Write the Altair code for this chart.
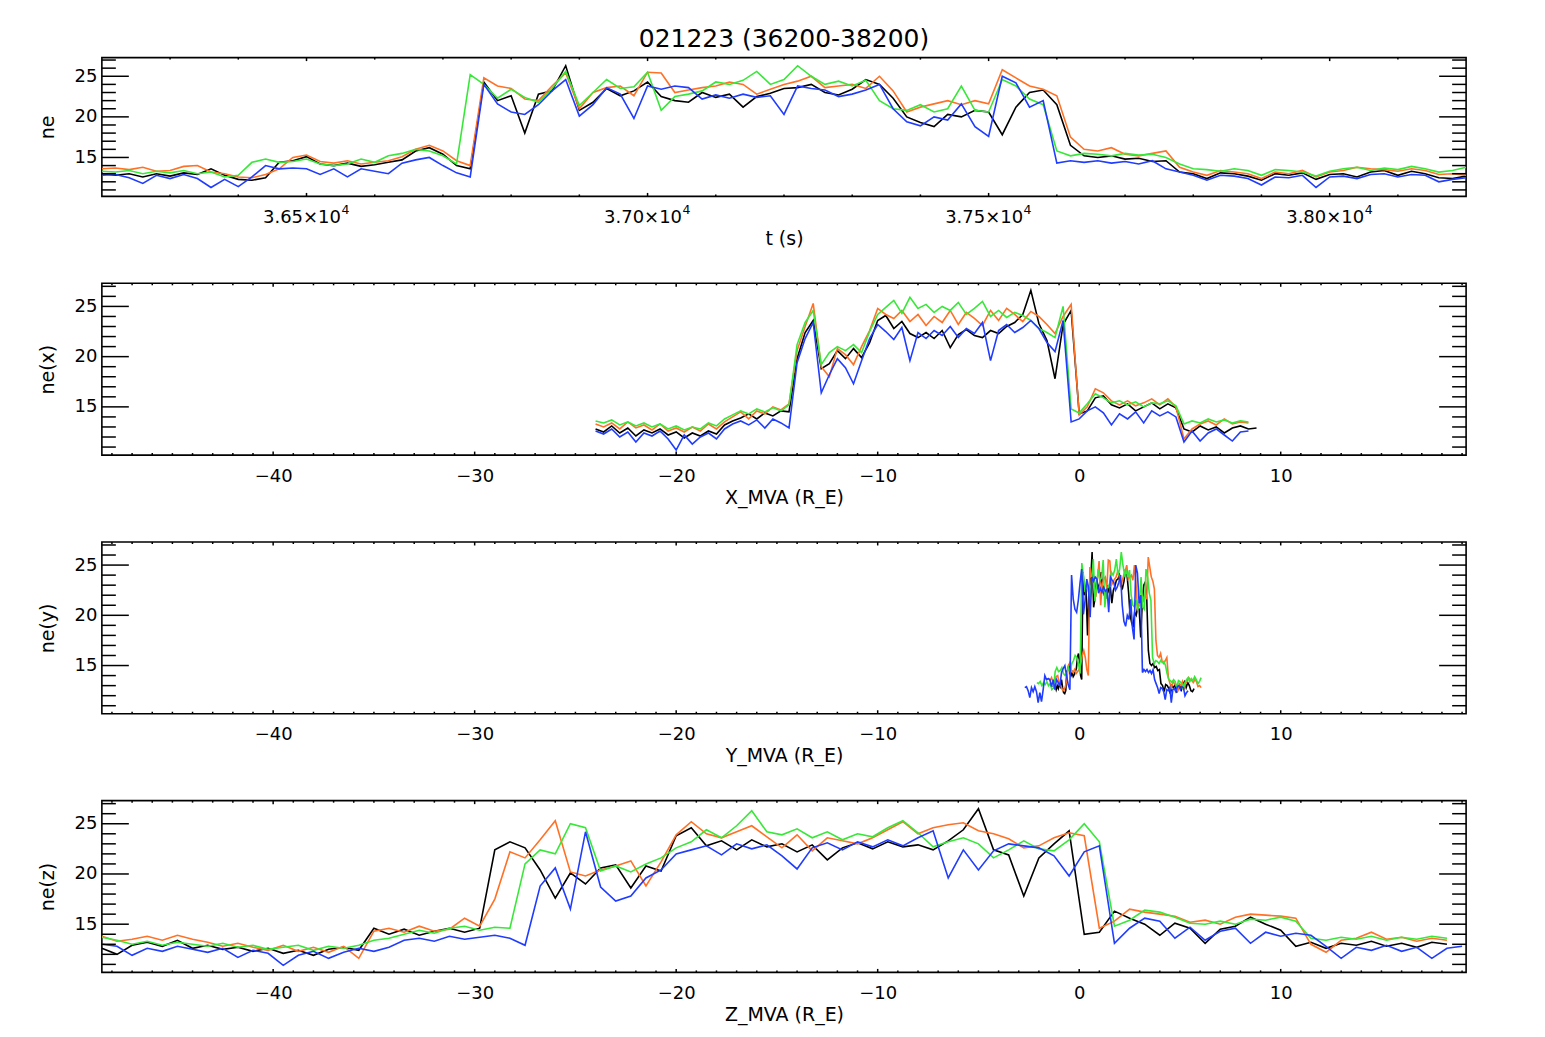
import altair as alt
import numpy as np
import pandas as pd

SPACECRAFT = ["C1", "C2", "C3", "C4"]
LINE_COLORS = ["#000000", "#ff7125", "#38e838", "#1f3cff"]

# ---- ne against time, sampled every 20 s from 36200 s --------------------
T_START, T_END, T_STEP = 36200, 38200, 20

ne_t_c1 = [13.0, 12.8, 13.0, 12.6, 13.0, 12.7, 13.1, 12.9, 13.6, 12.8,
           12.3, 12.2, 12.5, 14.4, 14.6, 15.1, 14.2, 14.0, 14.3, 13.9,
           14.1, 14.4, 14.7, 15.8, 16.2, 15.4, 14.0, 13.6, 24.3, 22.0,
           22.6, 18.0, 22.8, 23.2, 26.3, 20.8, 21.8, 23.5, 22.6, 23.2,
           24.3, 22.5, 22.0, 21.8, 23.0, 22.4, 22.8, 21.2, 22.5, 22.9,
           23.5, 23.6, 24.0, 23.0, 22.7, 23.4, 24.6, 24.0, 22.3, 20.0,
           19.3, 18.8, 20.3, 20.0, 20.8, 20.6, 17.8, 21.2, 23.0, 23.3,
           21.5, 16.5, 15.2, 15.0, 15.2, 14.8, 14.9, 14.5, 14.6, 13.2,
           13.0, 12.4, 13.1, 13.0, 12.7, 12.2, 13.0, 12.8, 13.1, 12.3,
           12.9, 13.0, 12.6, 13.2, 13.4, 12.8, 13.3, 13.0, 12.5, 12.4, 12.7]
ne_t_c2 = [13.6, 13.7, 13.5, 13.8, 13.3, 13.4, 13.9, 14.0, 13.2, 13.0,
           12.6, 12.5, 12.9, 13.6, 15.0, 15.3, 14.5, 14.3, 14.6, 14.2,
           14.4, 14.6, 15.1, 16.0, 16.5, 15.8, 14.6, 14.0, 24.8, 23.8,
           23.5, 22.2, 22.0, 23.8, 25.4, 21.0, 23.0, 23.6, 23.8, 22.6,
           25.5, 25.4, 23.0, 23.3, 23.6, 23.8, 24.3, 24.0, 22.8, 23.4,
           24.0, 24.4, 25.0, 23.6, 23.8, 24.0, 23.5, 25.0, 23.2, 20.6,
           21.2, 21.6, 22.0, 21.5, 22.0, 21.6, 25.8, 24.8, 23.8, 23.4,
           22.6, 17.5, 16.0, 15.8, 16.2, 15.4, 15.2, 15.5, 15.8, 13.8,
           13.2, 12.8, 13.4, 13.2, 13.0, 12.4, 13.2, 13.0, 13.4, 12.6,
           13.2, 13.4, 13.8, 13.6, 13.5, 13.3, 13.6, 13.4, 12.9, 13.0, 12.8]
ne_t_c3 = [13.3, 13.2, 13.4, 13.0, 13.3, 13.1, 13.4, 13.0, 13.2, 12.6,
           12.8, 14.4, 14.8, 14.4, 14.5, 14.8, 14.2, 14.0, 14.2, 14.8,
           14.4, 15.2, 15.5, 16.0, 15.8, 15.2, 14.2, 25.2, 24.0, 22.3,
           23.4, 22.4, 21.8, 23.5, 25.6, 21.4, 23.0, 24.6, 23.5, 23.7,
           25.5, 20.8, 22.5, 22.8, 23.2, 24.3, 24.0, 24.5, 25.6, 24.0,
           24.6, 26.3, 25.0, 24.0, 24.4, 23.8, 24.5, 22.0, 21.0, 20.8,
           21.5, 20.6, 21.0, 23.8, 20.8, 20.6, 24.6, 23.8, 22.2, 21.5,
           15.8, 15.2, 15.5, 15.4, 15.2, 15.5, 15.3, 15.4, 15.0, 14.2,
           13.6, 13.5, 13.3, 13.6, 13.4, 12.8, 13.5, 13.4, 13.2, 12.7,
           13.3, 13.6, 13.8, 13.4, 13.7, 13.5, 13.9, 13.6, 13.2, 13.4, 13.8]
ne_t_c4 = [12.8, 12.9, 12.5, 11.8, 12.8, 12.4, 12.9, 12.4, 11.3, 12.3,
           11.4, 12.6, 14.0, 13.6, 13.7, 13.6, 12.9, 13.6, 12.6, 13.6,
           13.3, 13.0, 14.3, 14.7, 15.0, 14.0, 13.1, 12.6, 24.0, 21.6,
           20.6, 20.3, 21.5, 23.2, 24.6, 20.1, 21.5, 23.6, 22.8, 19.8,
           23.8, 23.4, 23.8, 23.6, 22.2, 22.7, 22.3, 22.8, 22.4, 22.6,
           20.3, 23.8, 23.5, 23.3, 22.5, 22.8, 23.3, 24.0, 21.0, 19.4,
           18.9, 20.0, 19.6, 21.6, 18.8, 17.6, 25.0, 24.2, 21.2, 22.0,
           14.3, 14.6, 14.4, 14.6, 14.3, 14.5, 14.2, 14.6, 13.6, 13.2,
           12.8, 12.2, 12.8, 12.7, 12.4, 11.6, 12.6, 12.5, 12.8, 11.3,
           12.6, 12.7, 12.4, 12.9, 13.0, 12.6, 12.9, 12.8, 12.0, 12.3, 12.5]

# Y_MVA position (R_E) of each spacecraft at start, entry, exit and end
Y_TIMES = {
    "C1": [36200, 36750, 37612, 38200],
    "C2": [36200, 36752, 37618, 38200],
    "C3": [36200, 36733, 37590, 38200],
    "C4": [36200, 36755, 37590, 38200],
}
Y_MVA = {
    "C1": [-1.3, 0.15, 3.4, 5.7],
    "C2": [-1.6, 0.5, 3.8, 6.05],
    "C3": [-2.1, 0.1, 3.6, 6.05],
    "C4": [-2.7, -0.4, 3.1, 5.4],
}

# ---- ne binned along X_MVA: every 0.4 R_E from -24 R_E -------------------
X_START, X_STEP = -24.0, 0.4

ne_x_c1 = [12.8, 12.5, 13.1, 12.4, 12.9, 12.1, 12.7, 12.4, 12.8, 12.2,
           12.5, 11.9, 12.4, 12.1, 12.6, 12.3, 13.2, 13.6, 13.9, 14.3,
           13.8, 14.4, 14.1, 14.6, 14.5, 19.8, 22.4, 23.6, 18.8, 19.3,
           20.6, 19.8, 20.8, 19.9, 21.4, 23.6, 24.1, 22.8, 23.5, 22.3,
           21.9, 22.4, 21.8, 22.6, 20.9, 22.2, 22.7, 22.1, 21.9, 22.6,
           22.3, 23.0, 23.4, 24.2, 26.6, 23.3, 21.6, 17.8, 23.2, 24.6,
           14.3, 14.6, 15.9, 16.1, 15.2, 14.9, 15.3, 14.6, 15.0, 15.4,
           14.8, 15.3, 14.9, 12.8, 12.5, 13.1, 12.7, 13.0, 12.4, 12.9,
           13.1, 12.8, 12.9]
ne_x_c2 = [13.3, 13.0, 13.4, 12.8, 13.5, 12.9, 13.2, 12.7, 13.3, 12.6,
           12.9, 12.5, 13.0, 12.6, 13.3, 12.8, 13.5, 14.0, 14.5, 13.8,
           14.6, 14.3, 15.0, 14.7, 15.3, 20.6, 23.0, 25.3, 19.0, 18.0,
           20.8, 20.2, 19.2, 21.0, 22.6, 24.8, 24.2, 23.8, 24.6, 23.5,
           24.2, 23.1, 24.0, 23.4, 24.6, 23.2, 24.4, 23.8, 23.1, 24.6,
           23.6, 24.8, 24.2, 23.5, 24.5, 24.0, 23.2, 22.3, 24.0, 25.2,
           14.2, 15.0, 16.8, 16.4, 15.6, 15.2, 15.6, 15.1, 15.4, 15.8,
           15.2, 15.8, 15.0, 11.8, 12.8, 13.3, 13.6, 13.2, 13.8, 13.3,
           13.5, 13.4]
ne_x_c3 = [13.6, 13.4, 13.7, 13.2, 13.5, 13.1, 13.4, 13.0, 13.3, 12.8,
           13.1, 12.7, 13.0, 12.8, 13.4, 13.1, 13.8, 14.2, 14.6, 14.3,
           14.8, 14.5, 14.9, 14.6, 15.2, 21.2, 23.4, 24.6, 19.2, 20.4,
           21.0, 20.6, 21.2, 20.4, 22.5, 24.2, 24.9, 25.6, 24.3, 25.9,
           24.8, 25.2, 24.4, 25.0, 24.6, 25.4, 24.2, 24.8, 25.5, 24.0,
           24.6, 23.9, 24.4, 24.1, 23.6, 22.8, 22.4, 21.9, 25.0, 14.8,
           14.4, 15.3, 16.3, 15.9, 15.4, 15.6, 15.2, 15.5, 15.0, 15.4,
           15.3, 15.6, 15.1, 13.3, 13.6, 13.4, 13.8, 13.5, 13.7, 13.4,
           13.6, 13.5]
ne_x_c4 = [12.6, 12.3, 12.8, 12.0, 12.5, 11.5, 12.4, 12.1, 12.6, 11.8,
           10.7, 12.2, 11.3, 12.0, 12.4, 11.8, 12.8, 13.3, 13.6, 13.2,
           13.7, 12.9, 13.8, 13.4, 12.9, 19.4, 21.8, 23.4, 16.4, 18.2,
           19.8, 18.9, 17.3, 19.6, 21.8, 23.2, 22.5, 21.7, 22.9, 19.6,
           22.4, 21.8, 22.6, 22.1, 23.0, 21.9, 22.8, 22.3, 23.4, 19.6,
           22.6, 23.2, 22.4, 22.9, 23.6, 22.8, 21.4, 20.5, 23.6, 13.5,
           13.8, 14.6, 15.0, 14.4, 13.2, 14.3, 13.8, 14.5, 13.4, 14.6,
           14.1, 14.5, 14.0, 11.5, 12.6, 11.6, 12.4, 12.8, 12.2, 11.6,
           12.5, 12.6]

# ---- ne binned along Z_MVA: every 0.75 R_E from -48.5 R_E ----------------
Z_START, Z_STEP = -48.5, 0.75

ne_z_c1 = [12.6, 12.0, 12.9, 13.2, 12.8, 13.4, 12.6, 12.9, 12.5, 12.7,
           12.3, 12.6, 12.1, 12.4, 11.9, 12.5, 12.7, 12.4, 14.6, 14.0,
           14.5, 13.9, 14.3, 14.6, 14.2, 14.6, 22.4, 23.2, 22.6, 20.4,
           17.6, 20.1, 19.0, 20.6, 20.9, 18.6, 20.8, 20.3, 23.8, 24.6,
           22.8, 23.3, 22.4, 23.4, 22.7, 23.0, 22.2, 22.9, 21.4, 22.6,
           23.1, 22.5, 23.2, 22.7, 22.9, 22.4, 23.3, 24.4, 26.5, 22.4,
           21.9, 17.8, 21.6, 23.0, 24.3, 14.0, 14.2, 16.3, 15.6, 15.0,
           13.9, 15.1, 14.6, 13.1, 14.5, 14.8, 15.7, 15.0, 14.4, 12.8,
           13.2, 12.6, 13.1, 12.9, 13.3, 12.8, 13.1, 12.7, 13.2, 13.0]
ne_z_c2 = [13.8, 13.3, 13.5, 13.8, 13.4, 13.9, 13.5, 13.2, 12.8, 13.1,
           12.7, 12.4, 12.9, 12.3, 12.7, 12.2, 12.8, 11.6, 14.3, 14.6,
           14.2, 14.8, 14.3, 14.5, 15.6, 14.8, 17.5, 22.2, 21.6, 23.4,
           25.3, 20.2, 19.8, 20.4, 20.8, 21.3, 18.8, 21.2, 23.9, 25.2,
           24.0, 23.6, 24.2, 24.8, 23.7, 22.6, 23.9, 22.3, 23.6, 23.3,
           23.0, 23.6, 24.4, 25.2, 24.0, 24.6, 24.9, 25.1, 24.3, 24.0,
           23.5, 22.6, 22.8, 23.6, 24.1, 23.8, 14.6, 15.3, 16.5, 16.2,
           16.0, 15.8, 15.2, 15.4, 15.0, 15.7, 16.0, 15.9, 15.8, 15.6,
           13.0, 12.2, 13.4, 13.6, 14.2, 13.5, 13.7, 13.3, 13.6, 13.4]
ne_z_c3 = [13.7, 13.4, 13.0, 13.3, 12.9, 13.2, 13.0, 12.8, 13.1, 12.7,
           12.9, 12.5, 12.7, 12.9, 12.4, 12.8, 12.6, 12.9, 13.4, 13.6,
           14.0, 14.4, 14.1, 14.6, 14.8, 14.4, 14.7, 14.6, 21.0, 22.4,
           22.0, 25.0, 24.6, 20.3, 20.8, 20.2, 21.0, 21.6, 22.6, 23.2,
           24.4, 23.6, 24.8, 26.3, 24.2, 23.9, 24.5, 23.6, 24.2, 23.4,
           24.0, 23.7, 24.6, 25.3, 24.1, 22.7, 23.2, 23.6, 23.0, 21.6,
           22.4, 23.3, 22.5, 22.3, 23.4, 25.0, 23.2, 14.8, 15.4, 16.4,
           16.2, 15.7, 15.1, 15.0, 15.3, 15.0, 15.5, 15.4, 15.7, 15.3,
           13.6, 13.4, 13.7, 13.5, 13.8, 13.4, 13.7, 13.5, 13.8, 13.6]
ne_z_c4 = [13.0, 12.8, 11.9, 12.6, 12.3, 12.8, 12.5, 12.2, 12.6, 11.7,
           12.4, 12.1, 10.9, 11.9, 12.3, 11.6, 12.2, 12.6, 12.3, 12.7,
           13.4, 13.6, 13.3, 13.8, 13.5, 13.7, 13.9, 13.6, 12.9, 18.8,
           20.6, 16.5, 24.2, 18.7, 17.3, 17.8, 19.6, 20.4, 22.0, 22.4,
           22.8, 21.9, 23.0, 22.5, 22.9, 21.8, 20.5, 22.6, 23.1, 22.4,
           23.2, 22.7, 23.4, 22.8, 23.6, 24.3, 19.6, 22.4, 20.4, 22.3,
           23.0, 22.8, 22.6, 21.8, 19.8, 22.2, 22.8, 13.1, 14.6, 15.6,
           15.3, 13.6, 14.7, 13.4, 14.3, 14.6, 13.1, 14.2, 13.8, 14.1,
           13.9, 12.8, 11.6, 12.7, 12.4, 12.9, 12.3, 12.7, 11.6, 12.6, 12.8]

NE_T = {"C1": ne_t_c1, "C2": ne_t_c2, "C3": ne_t_c3, "C4": ne_t_c4}
NE_X = {"C1": ne_x_c1, "C2": ne_x_c2, "C3": ne_x_c3, "C4": ne_x_c4}
NE_Z = {"C1": ne_z_c1, "C2": ne_z_c2, "C3": ne_z_c3, "C4": ne_z_c4}

# ---- axis layout ---------------------------------------------------------
Y_DOMAIN = [10.2, 27.3]
Y_MAJOR = [15, 20, 25]
Y_MINOR = [v for v in range(11, 28) if v not in Y_MAJOR]
T_MAJOR = [36500, 37000, 37500, 38000]
T_MINOR = [v for v in range(36300, 38200, 100) if v not in T_MAJOR]
R_DOMAIN = [-48.5, 19.2]
R_MAJOR = [-40, -30, -20, -10, 0, 10]
R_MINOR = [v for v in range(-48, 20) if v % 10 != 0]

W = 1366
H_TIME = 139
H_POS = 172
FONT = "DejaVu Sans"


def series_frame(values_by_sc, start, step, name):
    frames = []
    for sc in SPACECRAFT:
        vals = values_by_sc[sc]
        frames.append(pd.DataFrame({
            "i": np.arange(len(vals)),
            name: start + step * np.arange(len(vals)),
            "ne": vals,
            "sc": sc,
        }))
    return pd.concat(frames, ignore_index=True)


df_t = series_frame(NE_T, T_START, T_STEP, "t")
df_t["Y"] = np.concatenate([np.interp(df_t.t[df_t.sc == sc], Y_TIMES[sc], Y_MVA[sc])
                            for sc in SPACECRAFT])
df_x = series_frame(NE_X, X_START, X_STEP, "X")
df_z = series_frame(NE_Z, Z_START, Z_STEP, "Z")


def tick_layers(xs, ys, x_axis, y_axis, x_major, x_minor, height):
    """IDL-style inward ticks on all four sides of a panel."""
    layers = []
    for vals, size in ((Y_MAJOR, 27), (Y_MINOR, 14)):
        d = pd.DataFrame({"v": vals})
        base = alt.Chart(d).mark_rule(color="black", strokeWidth=1.5)
        layers.append(base.encode(y=alt.Y("v:Q", scale=ys, axis=y_axis),
                                  x=alt.value(0), x2=alt.value(size)))
        layers.append(base.encode(y=alt.Y("v:Q", scale=ys, axis=y_axis),
                                  x=alt.value(W - size), x2=alt.value(W)))
    for vals, size in ((x_major, 3.5), (x_minor, 2)):
        d = pd.DataFrame({"v": vals})
        base = alt.Chart(d).mark_rule(color="black", strokeWidth=1.5)
        layers.append(base.encode(x=alt.X("v:Q", scale=xs, axis=x_axis),
                                  y=alt.value(height - size), y2=alt.value(height)))
        layers.append(base.encode(x=alt.X("v:Q", scale=xs, axis=x_axis),
                                  y=alt.value(0), y2=alt.value(size)))
    return layers


def panel(df, xcol, xdomain, x_major, x_minor, x_axis, ytitle, height, extra=()):
    xs = alt.Scale(domain=xdomain, nice=False, zero=False)
    ys = alt.Scale(domain=Y_DOMAIN, nice=False, zero=False)
    y_axis = alt.Axis(values=Y_MAJOR, title=ytitle, ticks=False, domain=False,
                      grid=False, labelPadding=5, titlePadding=17)
    layers = []
    for sc, col in zip(SPACECRAFT, LINE_COLORS):
        layers.append(
            alt.Chart(df[df.sc == sc])
            .mark_line(color=col, strokeWidth=1.6, clip=True)
            .encode(
                x=alt.X(f"{xcol}:Q", scale=xs, axis=x_axis),
                y=alt.Y("ne:Q", scale=ys, axis=y_axis),
                order="i:Q",
            )
        )
    layers += tick_layers(xs, ys, x_axis, y_axis, x_major, x_minor, height)
    for make in extra:
        layers.append(make(xs, x_axis))
    return alt.layer(*layers).properties(width=W, height=height)


def r_axis(title):
    return alt.Axis(values=R_MAJOR, format="d", title=title, ticks=False,
                    domain=False, grid=False, labelPadding=12, titlePadding=3,
                    labelOverlap=False)


# time labels written as mantissa x 10 with a raised exponent
t_axis = alt.Axis(values=T_MAJOR, title="t (s)", ticks=False, domain=False,
                  grid=False, labelPadding=12, titlePadding=3, labelOverlap=False,
                  labelOffset=-5,
                  labelExpr="format(datum.value / 10000, '.2f') + '×10'")


def exponent_layer(xs, x_axis):
    d = pd.DataFrame({"v": T_MAJOR, "e": ["4"] * len(T_MAJOR)})
    return (alt.Chart(d)
            .mark_text(align="left", baseline="top", dx=35, font=FONT,
                       fontSize=12.5, color="black", clip=False)
            .encode(x=alt.X("v:Q", scale=xs, axis=x_axis),
                    y=alt.value(H_TIME + 8), text="e:N"))


p1 = panel(df_t, "t", [T_START, T_END], T_MAJOR, T_MINOR, t_axis, "ne", H_TIME,
           extra=(exponent_layer,))
p2 = panel(df_x, "X", R_DOMAIN, R_MAJOR, R_MINOR, r_axis("X_MVA (R_E)"), "ne(x)", H_POS)
p3 = panel(df_t, "Y", R_DOMAIN, R_MAJOR, R_MINOR, r_axis("Y_MVA (R_E)"), "ne(y)", H_POS)
p4 = panel(df_z, "Z", R_DOMAIN, R_MAJOR, R_MINOR, r_axis("Z_MVA (R_E)"), "ne(z)", H_POS)

chart = (
    alt.vconcat(p1, p2, p3, p4, spacing=87, bounds="flush")
    .properties(
        title=alt.Title("021223 (36200-38200)", font=FONT, fontSize=25,
                        fontWeight="normal", color="black", anchor="middle",
                        frame="group", offset=4),
        padding={"left": 37, "top": 26, "right": 77, "bottom": 20},
        background="white",
    )
    .configure_view(stroke="black", strokeWidth=1.6)
    .configure_axis(labelFont=FONT, labelFontSize=18, labelColor="black",
                    titleFont=FONT, titleFontSize=19, titleFontWeight="normal",
                    titleColor="black")
)

chart.save("out.html", embed_options={"renderer": "svg", "actions": False})
